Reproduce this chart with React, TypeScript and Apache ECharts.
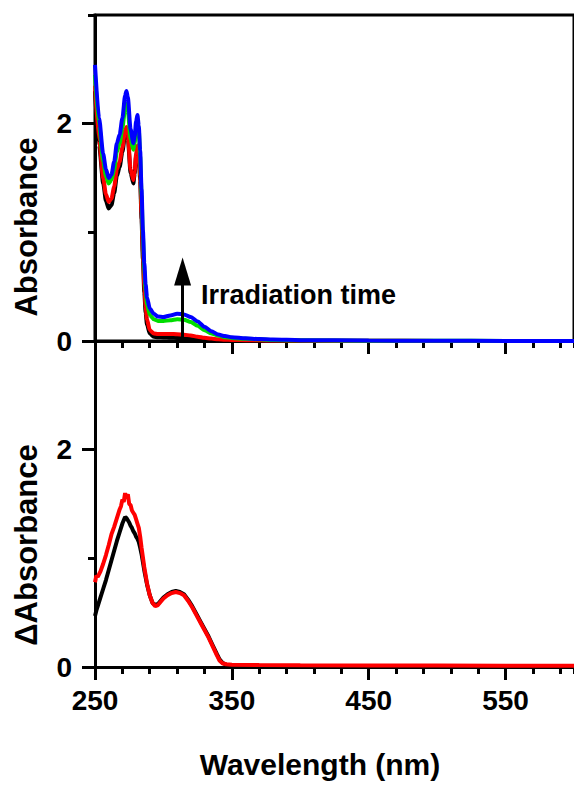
import React, { useEffect, useRef } from "react";
import * as echarts from "echarts";

// ---------- data ----------
const wavelengthsTop = [250, 253, 256, 258, 260, 262, 264, 266, 268, 270, 272, 273, 274, 276, 278, 279, 280, 281, 282, 283, 284, 285, 286, 287, 288, 290, 293, 296, 300, 305, 310, 315, 320, 325, 330, 335, 340, 345, 350, 360, 370, 380, 400, 450, 500, 550, 600];

const absBlack = [2.30, 1.80, 1.45, 1.29, 1.22, 1.25, 1.36, 1.52, 1.60, 1.74, 1.90, 1.93, 1.86, 1.55, 1.45, 1.54, 1.70, 1.77, 1.70, 1.48, 1.12, 0.75, 0.45, 0.26, 0.15, 0.07, 0.04, 0.035, 0.033, 0.03, 0.028, 0.025, 0.02, 0.016, 0.012, 0.009, 0.007, 0.005, 0.004, 0.003, 0.002, 0.002, 0.001, 0.001, 0, 0, 0];
const absRed = [2.35, 1.85, 1.50, 1.35, 1.28, 1.31, 1.42, 1.58, 1.65, 1.78, 1.94, 1.97, 1.90, 1.58, 1.48, 1.56, 1.72, 1.80, 1.74, 1.52, 1.18, 0.82, 0.52, 0.32, 0.20, 0.10, 0.07, 0.065, 0.065, 0.065, 0.062, 0.058, 0.05, 0.04, 0.03, 0.022, 0.016, 0.012, 0.01, 0.008, 0.006, 0.005, 0.004, 0.002, 0.001, 0.001, 0];
const absGreen = [2.45, 1.98, 1.65, 1.52, 1.45, 1.48, 1.58, 1.74, 1.82, 1.96, 2.14, 2.18, 2.12, 1.86, 1.76, 1.82, 1.96, 2.02, 1.94, 1.70, 1.34, 0.96, 0.66, 0.46, 0.34, 0.24, 0.20, 0.185, 0.185, 0.19, 0.20, 0.195, 0.175, 0.14, 0.10, 0.07, 0.05, 0.035, 0.028, 0.02, 0.015, 0.01, 0.006, 0.003, 0.002, 0.001, 0];
const absBlue = [2.54, 2.05, 1.72, 1.58, 1.50, 1.53, 1.65, 1.82, 1.90, 2.05, 2.26, 2.30, 2.24, 1.95, 1.82, 1.88, 2.02, 2.08, 1.98, 1.75, 1.40, 1.02, 0.72, 0.52, 0.40, 0.30, 0.25, 0.225, 0.22, 0.235, 0.25, 0.245, 0.22, 0.18, 0.13, 0.09, 0.06, 0.045, 0.035, 0.025, 0.018, 0.013, 0.008, 0.004, 0.002, 0.001, 0];

const wavelengthsBottom = [250, 251, 252, 254, 256, 258, 260, 262, 264, 266, 268, 269, 270, 271, 272, 273, 274, 275, 276, 277, 278, 279, 280, 281, 282, 283, 284, 286, 288, 290, 292, 294, 296, 298, 300, 303, 306, 309, 312, 315, 318, 321, 324, 327, 330, 333, 336, 339, 341, 343, 346, 350, 370, 400, 450, 500, 550, 600];

const deltaBlack = [0.47, 0.52, 0.56, 0.64, 0.72, 0.80, 0.89, 0.98, 1.07, 1.16, 1.24, 1.28, 1.32, 1.35, 1.38, 1.37, 1.35, 1.33, 1.30, 1.28, 1.25, 1.23, 1.20, 1.18, 1.15, 1.10, 1.04, 0.89, 0.76, 0.66, 0.59, 0.57, 0.58, 0.61, 0.64, 0.67, 0.69, 0.70, 0.69, 0.67, 0.62, 0.56, 0.49, 0.42, 0.35, 0.28, 0.20, 0.12, 0.07, 0.04, 0.02, 0.012, 0.008, 0.007, 0.006, 0.005, 0.005, 0.005];
const deltaRed = [0.78, 0.84, 0.83, 0.88, 0.95, 1.03, 1.12, 1.22, 1.29, 1.37, 1.45, 1.48, 1.54, 1.52, 1.60, 1.55, 1.59, 1.50, 1.49, 1.44, 1.42, 1.40, 1.36, 1.32, 1.28, 1.20, 1.10, 0.92, 0.77, 0.66, 0.59, 0.56, 0.57, 0.60, 0.63, 0.66, 0.68, 0.69, 0.68, 0.66, 0.61, 0.55, 0.48, 0.41, 0.34, 0.27, 0.19, 0.11, 0.06, 0.035, 0.025, 0.02, 0.018, 0.016, 0.014, 0.013, 0.012, 0.012];

const xTickLabels = [250, 350, 450, 550];
const yTickLabels = [0, 2];

const arrowWavelength = 314;
const arrowTop = 0.77;

// ---------- styles ----------
const FONT = "'Liberation Sans', Arial, Helvetica, sans-serif";
const X_MIN = 250;
const X_MAX = 600;
const Y_MIN = 0;
const Y_MAX = 3;

const pairs = (xs: number[], ys: number[]) => xs.map((x, i) => [x, ys[i]]);

function majorX(gridIndex: number, labels: boolean) {
  return {
    type: "value",
    gridIndex,
    position: "bottom",
    min: X_MIN,
    max: X_MAX,
    interval: 100,
    axisLine: { show: true, onZero: false, lineStyle: { color: "#000", width: 3 } },
    axisTick: { show: true, length: 13, lineStyle: { color: "#000", width: 3 }, customValues: xTickLabels },
    axisLabel: labels
      ? { show: true, customValues: xTickLabels, margin: 19, fontSize: 28, fontWeight: "bold", color: "#000", fontFamily: FONT }
      : { show: false },
    splitLine: { show: false },
  };
}
function minorX(gridIndex: number) {
  return {
    type: "value",
    gridIndex,
    position: "bottom",
    min: X_MIN,
    max: X_MAX,
    interval: 20,
    axisLine: { show: false, onZero: false },
    axisTick: { show: true, length: 7, lineStyle: { color: "#000", width: 3 } },
    axisLabel: { show: false },
    splitLine: { show: false },
  };
}
function majorY(gridIndex: number) {
  return {
    type: "value",
    gridIndex,
    position: "left",
    min: Y_MIN,
    max: Y_MAX,
    interval: 1,
    axisLine: { show: true, onZero: false, lineStyle: { color: "#000", width: 3 } },
    axisTick: { show: true, length: 13, lineStyle: { color: "#000", width: 3 }, customValues: yTickLabels },
    axisLabel: { show: true, customValues: yTickLabels, margin: 23, fontSize: 28, fontWeight: "bold", color: "#000", fontFamily: FONT },
    splitLine: { show: false },
  };
}
function minorY(gridIndex: number) {
  return {
    type: "value",
    gridIndex,
    position: "left",
    min: Y_MIN,
    max: Y_MAX,
    interval: 1,
    axisLine: { show: false, onZero: false },
    axisTick: { show: true, length: 7, lineStyle: { color: "#000", width: 3 } },
    axisLabel: { show: false },
    splitLine: { show: false },
  };
}

function lineSeries(name: string, color: string, data: number[][], xIdx: number, yIdx: number, width = 4, smooth: number | boolean = 0.25) {
  return {
    type: "line",
    name,
    xAxisIndex: xIdx,
    yAxisIndex: yIdx,
    data,
    showSymbol: false,
    symbol: "none",
    smooth,
    smoothMonotone: "x",
    lineStyle: { color, width },
    itemStyle: { color },
    silent: true,
  };
}

export default function App() {
  const ref = useRef<HTMLDivElement>(null);
  useEffect(() => {
    if (!ref.current) return;
    const chart = echarts.init(ref.current, null, { renderer: "svg" });
    const blue: any = lineSeries("blue", "#0000ff", pairs(wavelengthsTop, absBlue), 0, 0);
    blue.markLine = {
      silent: true,
      symbol: ["none", "triangle"],
      symbolSize: [17, 28],
      symbolOffset: [0, 0],
      lineStyle: { color: "#000", width: 3, type: "solid" },
      itemStyle: { color: "#000" },
      label: { show: false },
      data: [[{ coord: [arrowWavelength, 0] }, { coord: [arrowWavelength, arrowTop - 0.13] }]],
    };
    const option: any = {
      animation: false,
      backgroundColor: "#fff",
      grid: [
        { left: 95, top: 15, width: 483, height: 326, show: true, borderColor: "#000", borderWidth: 3, backgroundColor: "transparent", containLabel: false },
        { left: 95, top: 341, width: 483, height: 326, show: false, containLabel: false },
      ],
      xAxis: [majorX(0, false), minorX(0), majorX(1, true), minorX(1)],
      yAxis: [majorY(0), minorY(0), majorY(1), minorY(1)],
      series: [
        lineSeries("black", "#000000", pairs(wavelengthsTop, absBlack), 0, 0),
        lineSeries("red", "#ff0000", pairs(wavelengthsTop, absRed), 0, 0),
        lineSeries("green", "#00dd00", pairs(wavelengthsTop, absGreen), 0, 0),
        blue,
        lineSeries("delta black", "#000000", pairs(wavelengthsBottom, deltaBlack), 2, 2, 4, false),
        lineSeries("delta red", "#ff0000", pairs(wavelengthsBottom, deltaRed), 2, 2, 4, false),
      ],
      graphic: [
        {
          type: "text",
          left: 201,
          top: 281,
          style: { text: "Irradiation time", fontSize: 27, fontWeight: "bold", fontFamily: FONT, fill: "#000" },
        },
        {
          type: "text",
          x: 26,
          y: 227,
          rotation: Math.PI / 2,
          style: { text: "Absorbance", fontSize: 31, fontWeight: "bold", fontFamily: FONT, fill: "#000", align: "center", verticalAlign: "middle" },
        },
        {
          type: "text",
          x: 26,
          y: 545,
          rotation: Math.PI / 2,
          style: { text: "\u0394Absorbance", fontSize: 31, fontWeight: "bold", fontFamily: FONT, fill: "#000", align: "center", verticalAlign: "middle" },
        },
        {
          type: "text",
          x: 320,
          y: 764,
          style: { text: "Wavelength (nm)", fontSize: 30, fontWeight: "bold", fontFamily: FONT, fill: "#000", align: "center", verticalAlign: "middle" },
        },
      ],
    };
    chart.setOption(option);
    return () => chart.dispose();
  }, []);
  return <div ref={ref} style={{ position: "absolute", left: 0, top: 0, width: 574, height: 787, overflow: "hidden" }} />;
}
